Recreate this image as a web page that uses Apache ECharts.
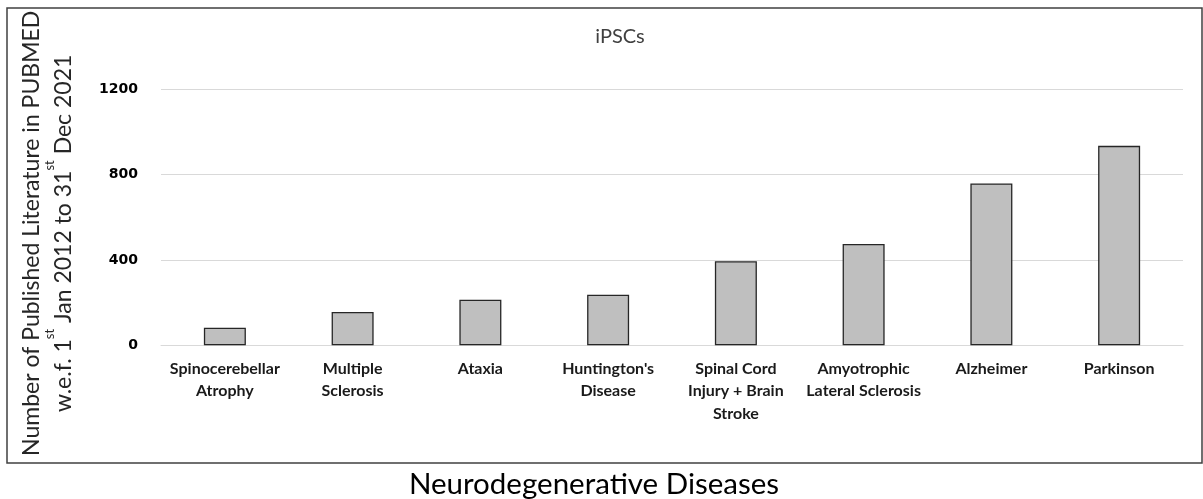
<!DOCTYPE html>
<html>
<head>
<meta charset="utf-8">
<style>
  html, body { margin: 0; padding: 0; background: #ffffff; }
  #chart { width: 1203px; height: 499px; }
</style>
<script src="https://cdn.jsdelivr.net/npm/echarts@6/dist/echarts.min.js"></script>
</head>
<body>
<div id="chart"></div>
<script>
// Publications on iPSCs per neurodegenerative disease (PubMed, 2012–2021)
const categories = [
  'Spinocerebellar\nAtrophy',
  'Multiple\nSclerosis',
  'Ataxia',
  "Huntington's\nDisease",
  'Spinal Cord\nInjury + Brain\nStroke',
  'Amyotrophic\nLateral Sclerosis',
  'Alzheimer',
  'Parkinson'
];
const publications = [82, 156, 214, 237, 394, 475, 759, 935];
const yTicks = [0, 400, 800, 1200];

const chart = echarts.init(document.getElementById('chart'));
const font = 'Lato, "Open Sans", "Noto Sans", sans-serif';
const wideFont = '"DejaVu Sans", sans-serif';

chart.setOption({
  animation: false,
  backgroundColor: '#ffffff',
  title: {
    text: 'iPSCs',
    left: 615,
    top: 22,
    textAlign: 'center',
    textStyle: { fontFamily: font, fontSize: 20, fontWeight: 'normal', color: '#404040' }
  },
  grid: { left: 161, right: 20, top: 89.3, bottom: 153.7, containLabel: false },
  xAxis: {
    type: 'category',
    data: categories,
    axisLine: { show: true, lineStyle: { color: '#d9d9d9', width: 1 } },
    axisTick: { show: false },
    axisLabel: {
      interval: 0,
      margin: 12,
      fontFamily: font,
      fontSize: 16,
      fontWeight: 'bold',
      color: '#1a1a1a',
      lineHeight: 22.5
    }
  },
  yAxis: {
    type: 'value',
    min: yTicks[0],
    max: yTicks[yTicks.length - 1],
    interval: yTicks[1] - yTicks[0],
    axisLine: { show: false },
    axisTick: { show: false },
    splitLine: { lineStyle: { color: '#d9d9d9', width: 1 } },
    axisLabel: {
      margin: 23,
      formatter: (v) => String(v),
      fontFamily: wideFont,
      fontSize: 14,
      fontWeight: 'bold',
      color: '#000000'
    },
    name: '{m|Number of Published Literature in PUBMED}\n{m|w.e.f. 1}{s|st}{m| Jan 2012 to 31}{s|st}{m| Dec 2021}',
    nameLocation: 'middle',
    nameRotate: 90,
    nameGap: 86,
    nameTextStyle: {
      fontFamily: font,
      color: '#262626',
      align: 'center',
      padding: [0, 32, 0, 0],
      rich: {
        m: { fontFamily: font, fontSize: 23, color: '#262626', lineHeight: 32, verticalAlign: 'bottom' },
        s: { fontFamily: font, fontSize: 13, color: '#262626', lineHeight: 25, verticalAlign: 'top' }
      }
    }
  },
  series: [{
    type: 'bar',
    data: publications,
    barWidth: 42,
    itemStyle: { color: '#bfbfbf', borderColor: '#262626', borderWidth: 1.3 }
  }],
  graphic: [
    {
      type: 'rect',
      shape: { x: 7, y: 8, width: 1195, height: 455 },
      style: { fill: 'none', stroke: '#404040', lineWidth: 1.5 },
      silent: true
    },
    {
      type: 'text',
      x: 594,
      y: 484,
      style: {
        text: 'Neurodegenerative Diseases',
        fontFamily: font,
        fontSize: 29.5,
        fill: '#000000',
        align: 'center',
        verticalAlign: 'middle'
      }
    }
  ]
});
</script>
</body>
</html>
